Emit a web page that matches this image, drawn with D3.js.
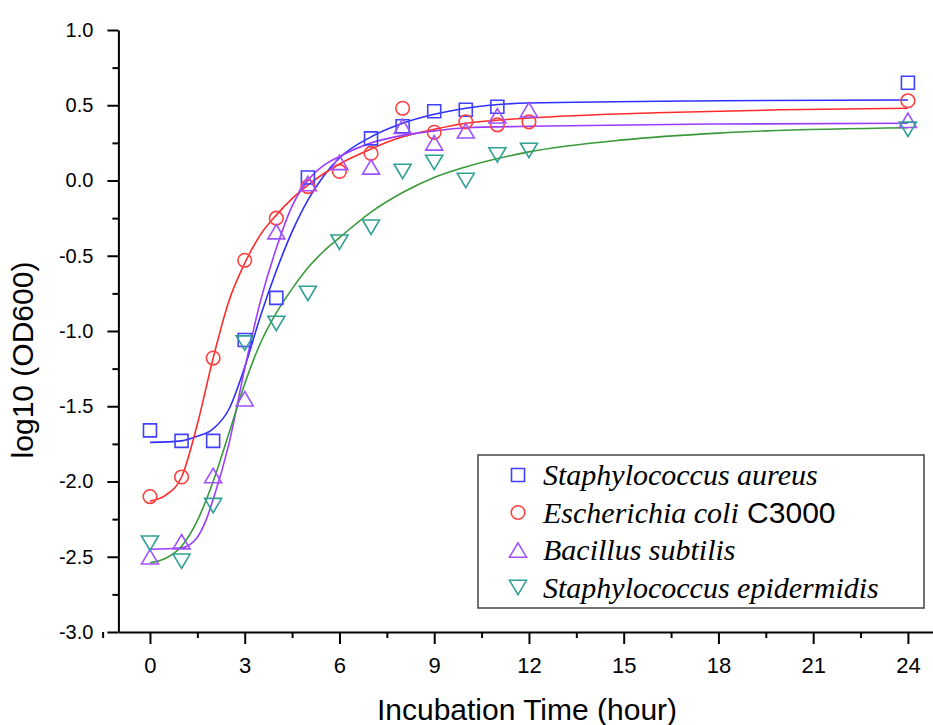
<!DOCTYPE html>
<html><head><meta charset="utf-8">
<script src="https://cdn.jsdelivr.net/npm/d3@7"></script>
<style>body{margin:0;background:#fff}</style>
</head><body><svg id="c" width="933" height="725"></svg>
<script>
// ---- data ----
const hours = [0,1,2,3,4,5,6,7,8,9,10,11,12,24];
const aureus = [-1.66,-1.73,-1.73,-1.06,-0.78,0.02,null,0.28,0.36,0.46,0.47,0.49,null,0.65];
const coli = [-2.10,-1.97,-1.18,-0.53,-0.25,-0.04,0.06,0.18,0.48,0.32,0.39,0.37,0.39,0.53];
const subtilis = [-2.50,-2.40,-1.96,-1.45,-0.34,-0.02,0.12,0.09,0.36,0.25,0.33,0.43,0.47,0.40];
const epidermidis = [-2.41,-2.53,-2.16,-1.08,-0.95,-0.75,-0.41,-0.31,0.06,0.12,0.00,0.17,0.20,0.34];

const aureusFitX = [0,1,1.5,2,2.5,3,3.5,4,4.5,5,5.5,6,7,8,9,10,12,18,24];
const aureusFitY = [-1.74,-1.73,-1.70,-1.65,-1.52,-1.24,-0.90,-0.60,-0.34,-0.13,0.03,0.15,0.29,0.38,0.44,0.48,0.515,0.53,0.535];
const coliFitX = [0,0.5,1,1.5,2,2.5,3,3.5,4,4.5,5,6,7,8,9,10,12,16,20,24];
const coliFitY = [-2.13,-2.09,-1.97,-1.62,-1.18,-0.80,-0.55,-0.36,-0.23,-0.12,-0.03,0.11,0.21,0.29,0.34,0.38,0.415,0.45,0.47,0.48];
const subtilisFitX = [0,1,1.5,1.75,2,2.5,3,3.5,4,4.5,5,5.5,6,7,8,9,10,12,18,24];
const subtilisFitY = [-2.45,-2.44,-2.37,-2.27,-2.12,-1.75,-1.25,-0.80,-0.45,-0.17,0.00,0.10,0.16,0.25,0.30,0.33,0.35,0.36,0.375,0.38];
const epidermidisFitX = [0,0.5,1,1.5,2,2.5,3,3.5,4,4.5,5,5.5,6,7,8,9,10,12,15,18,24];
const epidermidisFitY = [-2.54,-2.51,-2.43,-2.26,-2.00,-1.68,-1.35,-1.08,-0.88,-0.72,-0.58,-0.47,-0.38,-0.21,-0.08,0.02,0.09,0.19,0.27,0.315,0.35];

const xTicks = [0,3,6,9,12,15,18,21,24];
const xTickLabels = ["0","3","6","9","12","15","18","21","24"];
const xMinor = [-1.5,1.5,4.5,7.5,10.5,13.5,16.5,19.5,22.5];
const yTicks = [-3,-2.5,-2,-1.5,-1,-0.5,0,0.5,1];
const yTickLabels = ["-3.0","-2.5","-2.0","-1.5","-1.0","-0.5","0.0","0.5","1.0"];
const yMinor = [-2.75,-2.25,-1.75,-1.25,-0.75,-0.25,0.25,0.75];

const seriesNames = ["Staphylococcus aureus","Escherichia coli","Bacillus subtilis","Staphylococcus epidermidis"];
const seriesExtra = [""," C3000","",""];
const xTitle = "Incubation Time (hour)";
const yTitle = "log10 (OD600)";

// ---- drawing ----
const svg = d3.select("#c");
const x = d3.scaleLinear().domain([-1,25]).range([118.4,939.5]);
const y = d3.scaleLinear().domain([-3,1]).range([632,30]);

const series = [
  {vals:aureus, fx:aureusFitX, fy:aureusFitY, shape:"square", mc:"#4040ff", lc:"#2f2fff"},
  {vals:coli, fx:coliFitX, fy:coliFitY, shape:"circle", mc:"#ff4040", lc:"#ff2a2a"},
  {vals:subtilis, fx:subtilisFitX, fy:subtilisFitY, shape:"up", mc:"#a050ff", lc:"#9a3cff"},
  {vals:epidermidis, fx:epidermidisFitX, fy:epidermidisFitY, shape:"down", mc:"#30a095", lc:"#3a9a3a"}
];

function shapePath(shape, cx, cy, s) {
  if (shape === "square") {
    const h = 6.5*s;
    return `M${cx-h},${cy-h}H${cx+h}V${cy+h}H${cx-h}Z`;
  }
  if (shape === "circle") {
    const r = 6.8*s;
    return `M${cx+r},${cy}A${r},${r} 0 1,1 ${cx-r},${cy}A${r},${r} 0 1,1 ${cx+r},${cy}Z`;
  }
  const w = 8.5*s, h = 7.2*s;
  if (shape === "up") return `M${cx},${cy-h}L${cx+w},${cy+h}L${cx-w},${cy+h}Z`;
  return `M${cx},${cy+h}L${cx+w},${cy-h}L${cx-w},${cy-h}Z`;
}

// fit lines
const line = d3.line().x(d=>x(d[0])).y(d=>y(d[1])).curve(d3.curveMonotoneX);
series.forEach(s => {
  svg.append("path").datum(s.fx.map((v,i)=>[v,s.fy[i]]))
    .attr("d", line).attr("fill","none").attr("stroke", s.lc).attr("stroke-width",1.6);
});

// markers
series.forEach(s => {
  svg.append("g").selectAll("path")
    .data(hours.map((h,i)=>[h,s.vals[i]]).filter(d=>d[1]!==null))
    .join("path")
    .attr("d", d=>shapePath(s.shape, x(d[0]), y(d[1]), 1))
    .attr("fill","none").attr("stroke", s.mc).attr("stroke-width",1.6);
});

// axes
const font = "'Liberation Sans', Arial, sans-serif";
const xAxis = svg.append("g").attr("transform","translate(0,632)")
  .call(d3.axisBottom(x).tickValues(xTicks).tickFormat((d,i)=>xTickLabels[i]).tickSize(12).tickPadding(13).tickSizeOuter(0));
svg.append("g").attr("transform","translate(0,632)")
  .call(d3.axisBottom(x).tickValues(xMinor).tickFormat("").tickSize(6).tickSizeOuter(0))
  .select(".domain").remove();
const yAxis = svg.append("g").attr("transform","translate(118.4,0)")
  .call(d3.axisLeft(y).tickValues(yTicks).tickFormat((d,i)=>yTickLabels[i]).tickSize(11).tickPadding(14).tickSizeOuter(0));
svg.append("g").attr("transform","translate(118.4,0)")
  .call(d3.axisLeft(y).tickValues(yMinor).tickFormat("").tickSize(6).tickSizeOuter(0))
  .select(".domain").remove();

svg.selectAll(".domain, .tick line").attr("stroke","#000").attr("stroke-width",2);
xAxis.selectAll("text").attr("font-family",font).attr("font-size",22).attr("fill","#000");
yAxis.selectAll("text").attr("font-family",font).attr("font-size",20).attr("fill","#000");

// titles
svg.append("text").attr("x",527).attr("y",720).attr("text-anchor","middle")
  .attr("font-family",font).attr("font-size",30).attr("fill","#000").text(xTitle);
svg.append("text").attr("transform","translate(33,360) rotate(-90)").attr("text-anchor","middle")
  .attr("font-family",font).attr("font-size",30).attr("fill","#000").text(yTitle);

// legend
const lg = svg.append("g");
lg.append("rect").attr("x",478).attr("y",455).attr("width",446).attr("height",153)
  .attr("fill","#fff").attr("stroke","#444").attr("stroke-width",1.5);
series.forEach((s,i) => {
  const cy = 475 + i*37.5;
  lg.append("path").attr("d", shapePath(s.shape, 518, cy, 1))
    .attr("fill","none").attr("stroke", s.mc).attr("stroke-width",1.6);
  const t = lg.append("text").attr("x",543).attr("y",cy+10)
    .attr("font-size",30).attr("fill","#000");
  t.append("tspan").attr("font-family","'Liberation Serif','Times New Roman',serif")
    .attr("font-style","italic").text(seriesNames[i]);
  if (seriesExtra[i]) t.append("tspan").attr("font-family",font).text(seriesExtra[i]);
});
</script>
</body></html>
